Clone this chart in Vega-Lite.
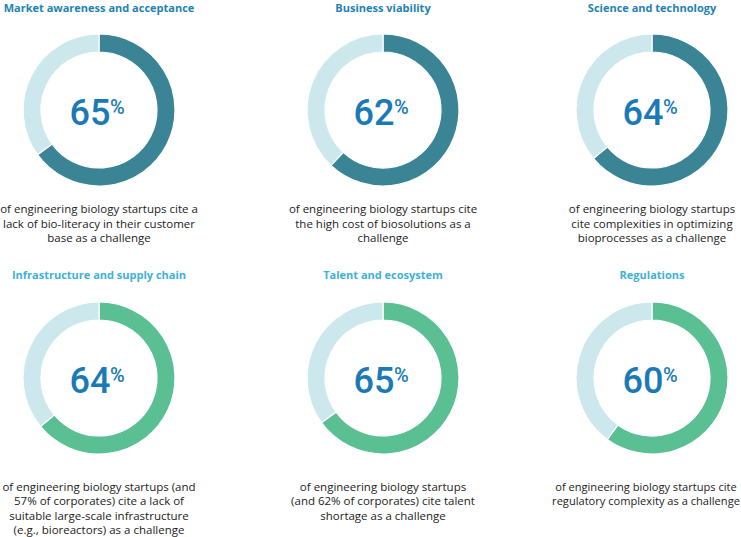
{
  "$schema": "https://vega.github.io/schema/vega-lite/v6.json",
  "width": 741,
  "height": 537,
  "autosize": {"type": "fit", "contains": "padding"},
  "padding": 0,
  "background": "white",
  "config": {"view": {"stroke": null}, "font": "Open Sans"},
  "datasets": {
    "panels": [
      {"title": "Market awareness and acceptance", "value": 65, "col": 0, "row": 0, "caption": "of engineering biology startups cite a\nlack of bio-literacy in their customer\nbase as a challenge"},
      {"title": "Business viability", "value": 62, "col": 1, "row": 0, "caption": "of engineering biology startups cite\nthe high cost of biosolutions as a\nchallenge"},
      {"title": "Science and technology", "value": 64, "col": 2, "row": 0, "caption": "of engineering biology startups\ncite complexities in optimizing\nbioprocesses as a challenge"},
      {"title": "Infrastructure and supply chain", "value": 64, "col": 0, "row": 1, "caption": "of engineering biology startups (and\n57% of corporates) cite a lack of\nsuitable large-scale infrastructure\n(e.g., bioreactors) as a challenge"},
      {"title": "Talent and ecosystem", "value": 65, "col": 1, "row": 1, "caption": "of engineering biology startups\n(and 62% of corporates) cite talent\nshortage as a challenge"},
      {"title": "Regulations", "value": 60, "col": 2, "row": 1, "caption": "of engineering biology startups cite\nregulatory complexity as a challenge"}
    ],
    "arcs": [
      {"col": 0, "row": 0, "part": "share", "start": 0, "end": 65},
      {"col": 0, "row": 0, "part": "rest", "start": 65, "end": 100},
      {"col": 1, "row": 0, "part": "share", "start": 0, "end": 62},
      {"col": 1, "row": 0, "part": "rest", "start": 62, "end": 100},
      {"col": 2, "row": 0, "part": "share", "start": 0, "end": 64},
      {"col": 2, "row": 0, "part": "rest", "start": 64, "end": 100},
      {"col": 0, "row": 1, "part": "share", "start": 0, "end": 64},
      {"col": 0, "row": 1, "part": "rest", "start": 64, "end": 100},
      {"col": 1, "row": 1, "part": "share", "start": 0, "end": 65},
      {"col": 1, "row": 1, "part": "rest", "start": 65, "end": 100},
      {"col": 2, "row": 1, "part": "share", "start": 0, "end": 60},
      {"col": 2, "row": 1, "part": "rest", "start": 60, "end": 100}
    ]
  },
  "encoding": {
    "x": {"field": "col", "type": "quantitative", "axis": null, "scale": {"domain": [0, 1, 2], "range": [99, 383, 652]}},
    "y": {"field": "row", "type": "quantitative", "axis": null, "scale": {"domain": [0, 1], "range": [110, 378]}}
  },
  "layer": [
    {
      "data": {"name": "arcs"},
      "mark": {"type": "arc", "outerRadius": 76, "innerRadius": 58, "stroke": "white", "strokeWidth": 1.2},
      "encoding": {
        "theta": {"field": "start", "type": "quantitative", "scale": {"domain": [0, 100], "range": [0, 6.283185307]}},
        "theta2": {"field": "end"},
        "color": {
          "condition": [
            {"test": "datum.part === 'rest'", "value": "#cde8ed"},
            {"test": "datum.row === 0", "value": "#3a8496"}
          ],
          "value": "#5bbf94"
        }
      }
    },
    {
      "data": {"name": "panels"},
      "mark": {"type": "text", "align": "center", "baseline": "alphabetic", "dx": -9, "dy": 15, "font": "Roboto", "fontSize": 36, "fontWeight": 500, "color": "#1a7ab8"},
      "encoding": {"text": {"field": "value", "type": "quantitative"}}
    },
    {
      "data": {"name": "panels"},
      "mark": {"type": "text", "align": "left", "baseline": "alphabetic", "dx": 11, "dy": 4, "font": "Roboto", "fontSize": 20, "fontWeight": 500, "color": "#1a7ab8", "text": "%"},
      "encoding": {}
    },
    {
      "data": {"name": "panels"},
      "transform": [{"filter": "datum.row === 0"}],
      "mark": {"type": "text", "align": "center", "baseline": "middle", "dy": -101, "fontSize": 11, "fontWeight": "bold", "color": "#1e82b4"},
      "encoding": {"text": {"field": "title", "type": "nominal"}}
    },
    {
      "data": {"name": "panels"},
      "transform": [{"filter": "datum.row === 1"}],
      "mark": {"type": "text", "align": "center", "baseline": "middle", "dy": -102, "fontSize": 11, "fontWeight": "bold", "color": "#3db1dc"},
      "encoding": {"text": {"field": "title", "type": "nominal"}}
    },
    {
      "data": {"name": "panels"},
      "transform": [{"filter": "datum.row === 0"}],
      "mark": {"type": "text", "align": "center", "baseline": "top", "dy": 94, "fontSize": 11.5, "lineHeight": 14.5, "lineBreak": "\n", "color": "#222222"},
      "encoding": {"text": {"field": "caption", "type": "nominal"}}
    },
    {
      "data": {"name": "panels"},
      "transform": [{"filter": "datum.row === 1 && datum.col < 2"}],
      "mark": {"type": "text", "align": "center", "baseline": "top", "dy": 104, "fontSize": 11.5, "lineHeight": 14.4, "lineBreak": "\n", "color": "#222222"},
      "encoding": {"text": {"field": "caption", "type": "nominal"}}
    },
    {
      "data": {"name": "panels"},
      "transform": [{"filter": "datum.row === 1 && datum.col === 2"}],
      "mark": {"type": "text", "align": "center", "baseline": "top", "dx": -6, "dy": 104, "fontSize": 11.1, "lineHeight": 14.4, "lineBreak": "\n", "color": "#222222"},
      "encoding": {"text": {"field": "caption", "type": "nominal"}}
    }
  ]
}
